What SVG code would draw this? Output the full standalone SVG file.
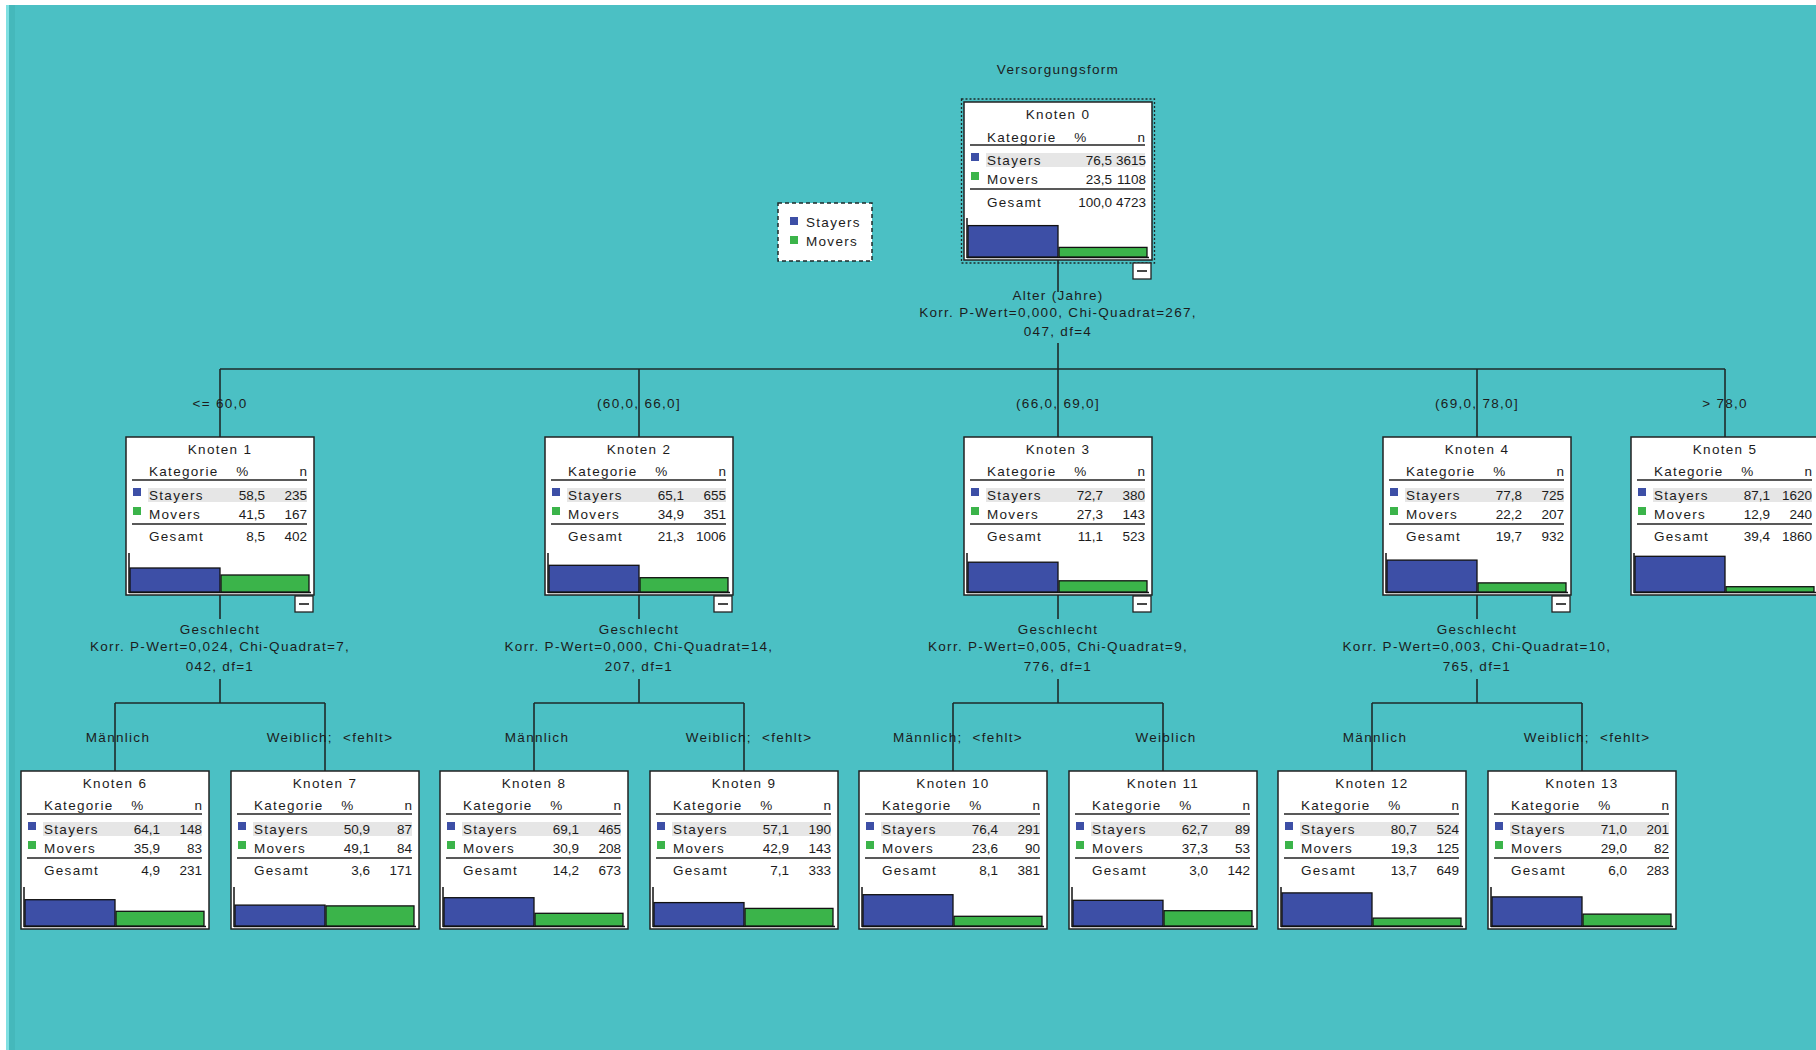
<svg xmlns="http://www.w3.org/2000/svg" xmlns:xlink="http://www.w3.org/1999/xlink" width="1816" height="1050" viewBox="0 0 1816 1050">
<style>
text{font-family:"Liberation Sans",Arial,sans-serif;font-size:13.5px;letter-spacing:1.3px;fill:#1c1c1c}
.m{text-anchor:middle}
.e{text-anchor:end;letter-spacing:0px;font-size:13.5px}
.p{white-space:pre}
.ln{stroke:#1e2a2a;stroke-width:1.6;fill:none}
.sb{fill:#3d4fa6;stroke:#111;stroke-width:1.3}
.sg{fill:#3bb44a;stroke:#111;stroke-width:1.3}
.mb{fill:#fff;stroke:#222;stroke-width:1.3}
</style>
<defs>
<g id="frame">
<rect x="0" y="0" width="188" height="158" fill="#fff" stroke="#222" stroke-width="1.5"/>
<rect x="22" y="51" width="159" height="14" fill="#e6e6e6"/>
<line x1="6" y1="43" x2="181" y2="43" stroke="#222" stroke-width="1.5"/>
<line x1="6" y1="87" x2="181" y2="87" stroke="#222" stroke-width="1.5"/>
<rect x="7" y="51" width="8" height="8" fill="#3d4fa6"/>
<rect x="7" y="70" width="8" height="8" fill="#3bb44a"/>
<line x1="3" y1="116" x2="3" y2="156" stroke="#111" stroke-width="1.5"/>
<line x1="3" y1="155.5" x2="185" y2="155.5" stroke="#111" stroke-width="1.5"/>
</g>
<g id="minus">
<rect x="169" y="159" width="18" height="16" class="mb"/>
<line x1="173" y1="167" x2="183" y2="167" stroke="#333" stroke-width="1.8"/>
</g>
</defs>
<rect x="0" y="0" width="1816" height="1050" fill="#ffffff"/>
<rect x="6" y="5" width="1810" height="1045" fill="#4bc0c4"/>
<rect x="6" y="5" width="3" height="1045" fill="#7fe0e2"/>
<rect x="9" y="5" width="6" height="1045" fill="#45b8bb"/>

<text class="m" x="1058" y="74">Versorgungsform</text>

<g id="legend">
<rect x="778" y="203" width="94" height="58" fill="#fff" stroke="#1e2a2a" stroke-width="1.5" stroke-dasharray="4,3"/>
<rect x="790" y="217" width="8" height="8" fill="#3d4fa6"/>
<rect x="790" y="236" width="8" height="8" fill="#3bb44a"/>
<text x="806" y="227">Stayers</text>
<text x="806" y="246">Movers</text>
</g>

<g id="connectors">
<line class="ln" x1="1058" y1="260" x2="1058" y2="292"/>
<line class="ln" x1="1058" y1="343" x2="1058" y2="369"/>
<line class="ln" x1="220" y1="369" x2="1725" y2="369"/>
<line class="ln" x1="220" y1="369" x2="220" y2="437"/>
<line class="ln" x1="639" y1="369" x2="639" y2="437"/>
<line class="ln" x1="1058" y1="369" x2="1058" y2="437"/>
<line class="ln" x1="1477" y1="369" x2="1477" y2="437"/>
<line class="ln" x1="1725" y1="369" x2="1725" y2="437"/>
<line class="ln" x1="220" y1="595" x2="220" y2="619"/>
<line class="ln" x1="220" y1="679" x2="220" y2="703"/>
<line class="ln" x1="115" y1="703" x2="325" y2="703"/>
<line class="ln" x1="115" y1="703" x2="115" y2="771"/>
<line class="ln" x1="325" y1="703" x2="325" y2="771"/>
<line class="ln" x1="639" y1="595" x2="639" y2="619"/>
<line class="ln" x1="639" y1="679" x2="639" y2="703"/>
<line class="ln" x1="534" y1="703" x2="744" y2="703"/>
<line class="ln" x1="534" y1="703" x2="534" y2="771"/>
<line class="ln" x1="744" y1="703" x2="744" y2="771"/>
<line class="ln" x1="1058" y1="595" x2="1058" y2="619"/>
<line class="ln" x1="1058" y1="679" x2="1058" y2="703"/>
<line class="ln" x1="953" y1="703" x2="1163" y2="703"/>
<line class="ln" x1="953" y1="703" x2="953" y2="771"/>
<line class="ln" x1="1163" y1="703" x2="1163" y2="771"/>
<line class="ln" x1="1477" y1="595" x2="1477" y2="619"/>
<line class="ln" x1="1477" y1="679" x2="1477" y2="703"/>
<line class="ln" x1="1372" y1="703" x2="1582" y2="703"/>
<line class="ln" x1="1372" y1="703" x2="1372" y2="771"/>
<line class="ln" x1="1582" y1="703" x2="1582" y2="771"/>
</g>

<g id="labels">
<text class="m" x="1058" y="300">Alter (Jahre)</text>
<text class="m" x="1058" y="317">Korr. P-Wert=0,000, Chi-Quadrat=267,</text>
<text class="m" x="1058" y="336">047, df=4</text>
<text class="m" x="220" y="408">&lt;= 60,0</text>
<text class="m" x="639" y="408">(60,0, 66,0]</text>
<text class="m" x="1058" y="408">(66,0, 69,0]</text>
<text class="m" x="1477" y="408">(69,0, 78,0]</text>
<text class="m" x="1725" y="408">&gt; 78,0</text>
<text class="m" x="220" y="634">Geschlecht</text>
<text class="m" x="220" y="651">Korr. P-Wert=0,024, Chi-Quadrat=7,</text>
<text class="m" x="220" y="671">042, df=1</text>
<text class="m" x="639" y="634">Geschlecht</text>
<text class="m" x="639" y="651">Korr. P-Wert=0,000, Chi-Quadrat=14,</text>
<text class="m" x="639" y="671">207, df=1</text>
<text class="m" x="1058" y="634">Geschlecht</text>
<text class="m" x="1058" y="651">Korr. P-Wert=0,005, Chi-Quadrat=9,</text>
<text class="m" x="1058" y="671">776, df=1</text>
<text class="m" x="1477" y="634">Geschlecht</text>
<text class="m" x="1477" y="651">Korr. P-Wert=0,003, Chi-Quadrat=10,</text>
<text class="m" x="1477" y="671">765, df=1</text>
<text class="m" x="118" y="742">Männlich</text>
<text class="m p" x="330" y="742" xml:space="preserve">Weiblich;  &lt;fehlt&gt;</text>
<text class="m" x="537" y="742">Männlich</text>
<text class="m p" x="749" y="742" xml:space="preserve">Weiblich;  &lt;fehlt&gt;</text>
<text class="m p" x="958" y="742" xml:space="preserve">Männlich;  &lt;fehlt&gt;</text>
<text class="m" x="1166" y="742">Weiblich</text>
<text class="m" x="1375" y="742">Männlich</text>
<text class="m p" x="1587" y="742" xml:space="preserve">Weiblich;  &lt;fehlt&gt;</text>
</g>

<g id="node0" transform="translate(964,102)">
<rect x="-2.5" y="-3" width="193" height="164" fill="none" stroke="#1e2a2a" stroke-width="1.3" stroke-dasharray="2,2"/>
<use xlink:href="#frame"/>
<text class="m" x="94" y="17">Knoten 0</text>
<text x="23" y="40">Kategorie</text><text class="m" x="117" y="40">%</text><text class="e" x="181" y="40">n</text>
<text x="23" y="63">Stayers</text><text class="e" x="148" y="63">76,5</text><text class="e" x="182" y="63">3615</text>
<text x="23" y="82">Movers</text><text class="e" x="148" y="82">23,5</text><text class="e" x="182" y="82">1108</text>
<text x="23" y="105">Gesamt</text><text class="e" x="148" y="105">100,0</text><text class="e" x="182" y="105">4723</text>
<rect class="sb" x="4" y="123.6" width="90" height="31.4"/>
<rect class="sg" x="95" y="145.4" width="88" height="9.6"/>
<use xlink:href="#minus" y="2"/>
</g>

<g id="node1" transform="translate(126,437)">
<use xlink:href="#frame"/>
<text class="m" x="94" y="17">Knoten 1</text>
<text x="23" y="39">Kategorie</text><text class="m" x="117" y="39">%</text><text class="e" x="181" y="39">n</text>
<text x="23" y="63">Stayers</text><text class="e" x="139" y="63">58,5</text><text class="e" x="181" y="63">235</text>
<text x="23" y="82">Movers</text><text class="e" x="139" y="82">41,5</text><text class="e" x="181" y="82">167</text>
<text x="23" y="104">Gesamt</text><text class="e" x="139" y="104">8,5</text><text class="e" x="181" y="104">402</text>
<rect class="sb" x="4" y="131" width="90" height="24"/>
<rect class="sg" x="95" y="138" width="88" height="17"/>
<use xlink:href="#minus"/>
</g>

<g id="node2" transform="translate(545,437)">
<use xlink:href="#frame"/>
<text class="m" x="94" y="17">Knoten 2</text>
<text x="23" y="39">Kategorie</text><text class="m" x="117" y="39">%</text><text class="e" x="181" y="39">n</text>
<text x="23" y="63">Stayers</text><text class="e" x="139" y="63">65,1</text><text class="e" x="181" y="63">655</text>
<text x="23" y="82">Movers</text><text class="e" x="139" y="82">34,9</text><text class="e" x="181" y="82">351</text>
<text x="23" y="104">Gesamt</text><text class="e" x="139" y="104">21,3</text><text class="e" x="181" y="104">1006</text>
<rect class="sb" x="4" y="128.3" width="90" height="26.7"/>
<rect class="sg" x="95" y="140.7" width="88" height="14.3"/>
<use xlink:href="#minus"/>
</g>

<g id="node3" transform="translate(964,437)">
<use xlink:href="#frame"/>
<text class="m" x="94" y="17">Knoten 3</text>
<text x="23" y="39">Kategorie</text><text class="m" x="117" y="39">%</text><text class="e" x="181" y="39">n</text>
<text x="23" y="63">Stayers</text><text class="e" x="139" y="63">72,7</text><text class="e" x="181" y="63">380</text>
<text x="23" y="82">Movers</text><text class="e" x="139" y="82">27,3</text><text class="e" x="181" y="82">143</text>
<text x="23" y="104">Gesamt</text><text class="e" x="139" y="104">11,1</text><text class="e" x="181" y="104">523</text>
<rect class="sb" x="4" y="125.2" width="90" height="29.8"/>
<rect class="sg" x="95" y="143.8" width="88" height="11.2"/>
<use xlink:href="#minus"/>
</g>

<g id="node4" transform="translate(1383,437)">
<use xlink:href="#frame"/>
<text class="m" x="94" y="17">Knoten 4</text>
<text x="23" y="39">Kategorie</text><text class="m" x="117" y="39">%</text><text class="e" x="181" y="39">n</text>
<text x="23" y="63">Stayers</text><text class="e" x="139" y="63">77,8</text><text class="e" x="181" y="63">725</text>
<text x="23" y="82">Movers</text><text class="e" x="139" y="82">22,2</text><text class="e" x="181" y="82">207</text>
<text x="23" y="104">Gesamt</text><text class="e" x="139" y="104">19,7</text><text class="e" x="181" y="104">932</text>
<rect class="sb" x="4" y="123.1" width="90" height="31.9"/>
<rect class="sg" x="95" y="145.9" width="88" height="9.1"/>
<use xlink:href="#minus"/>
</g>

<g id="node5" transform="translate(1631,437)">
<use xlink:href="#frame"/>
<text class="m" x="94" y="17">Knoten 5</text>
<text x="23" y="39">Kategorie</text><text class="m" x="117" y="39">%</text><text class="e" x="181" y="39">n</text>
<text x="23" y="63">Stayers</text><text class="e" x="139" y="63">87,1</text><text class="e" x="181" y="63">1620</text>
<text x="23" y="82">Movers</text><text class="e" x="139" y="82">12,9</text><text class="e" x="181" y="82">240</text>
<text x="23" y="104">Gesamt</text><text class="e" x="139" y="104">39,4</text><text class="e" x="181" y="104">1860</text>
<rect class="sb" x="4" y="119.3" width="90" height="35.7"/>
<rect class="sg" x="95" y="149.7" width="88" height="5.3"/>
</g>

<g id="node6" transform="translate(21,771)">
<use xlink:href="#frame"/>
<text class="m" x="94" y="17">Knoten 6</text>
<text x="23" y="39">Kategorie</text><text class="m" x="117" y="39">%</text><text class="e" x="181" y="39">n</text>
<text x="23" y="63">Stayers</text><text class="e" x="139" y="63">64,1</text><text class="e" x="181" y="63">148</text>
<text x="23" y="82">Movers</text><text class="e" x="139" y="82">35,9</text><text class="e" x="181" y="82">83</text>
<text x="23" y="104">Gesamt</text><text class="e" x="139" y="104">4,9</text><text class="e" x="181" y="104">231</text>
<rect class="sb" x="4" y="128.7" width="90" height="26.3"/>
<rect class="sg" x="95" y="140.3" width="88" height="14.7"/>
</g>

<g id="node7" transform="translate(231,771)">
<use xlink:href="#frame"/>
<text class="m" x="94" y="17">Knoten 7</text>
<text x="23" y="39">Kategorie</text><text class="m" x="117" y="39">%</text><text class="e" x="181" y="39">n</text>
<text x="23" y="63">Stayers</text><text class="e" x="139" y="63">50,9</text><text class="e" x="181" y="63">87</text>
<text x="23" y="82">Movers</text><text class="e" x="139" y="82">49,1</text><text class="e" x="181" y="82">84</text>
<text x="23" y="104">Gesamt</text><text class="e" x="139" y="104">3,6</text><text class="e" x="181" y="104">171</text>
<rect class="sb" x="4" y="134.1" width="90" height="20.9"/>
<rect class="sg" x="95" y="134.9" width="88" height="20.1"/>
</g>

<g id="node8" transform="translate(440,771)">
<use xlink:href="#frame"/>
<text class="m" x="94" y="17">Knoten 8</text>
<text x="23" y="39">Kategorie</text><text class="m" x="117" y="39">%</text><text class="e" x="181" y="39">n</text>
<text x="23" y="63">Stayers</text><text class="e" x="139" y="63">69,1</text><text class="e" x="181" y="63">465</text>
<text x="23" y="82">Movers</text><text class="e" x="139" y="82">30,9</text><text class="e" x="181" y="82">208</text>
<text x="23" y="104">Gesamt</text><text class="e" x="139" y="104">14,2</text><text class="e" x="181" y="104">673</text>
<rect class="sb" x="4" y="126.7" width="90" height="28.3"/>
<rect class="sg" x="95" y="142.3" width="88" height="12.7"/>
</g>

<g id="node9" transform="translate(650,771)">
<use xlink:href="#frame"/>
<text class="m" x="94" y="17">Knoten 9</text>
<text x="23" y="39">Kategorie</text><text class="m" x="117" y="39">%</text><text class="e" x="181" y="39">n</text>
<text x="23" y="63">Stayers</text><text class="e" x="139" y="63">57,1</text><text class="e" x="181" y="63">190</text>
<text x="23" y="82">Movers</text><text class="e" x="139" y="82">42,9</text><text class="e" x="181" y="82">143</text>
<text x="23" y="104">Gesamt</text><text class="e" x="139" y="104">7,1</text><text class="e" x="181" y="104">333</text>
<rect class="sb" x="4" y="131.6" width="90" height="23.4"/>
<rect class="sg" x="95" y="137.4" width="88" height="17.6"/>
</g>

<g id="node10" transform="translate(859,771)">
<use xlink:href="#frame"/>
<text class="m" x="94" y="17">Knoten 10</text>
<text x="23" y="39">Kategorie</text><text class="m" x="117" y="39">%</text><text class="e" x="181" y="39">n</text>
<text x="23" y="63">Stayers</text><text class="e" x="139" y="63">76,4</text><text class="e" x="181" y="63">291</text>
<text x="23" y="82">Movers</text><text class="e" x="139" y="82">23,6</text><text class="e" x="181" y="82">90</text>
<text x="23" y="104">Gesamt</text><text class="e" x="139" y="104">8,1</text><text class="e" x="181" y="104">381</text>
<rect class="sb" x="4" y="123.7" width="90" height="31.3"/>
<rect class="sg" x="95" y="145.3" width="88" height="9.7"/>
</g>

<g id="node11" transform="translate(1069,771)">
<use xlink:href="#frame"/>
<text class="m" x="94" y="17">Knoten 11</text>
<text x="23" y="39">Kategorie</text><text class="m" x="117" y="39">%</text><text class="e" x="181" y="39">n</text>
<text x="23" y="63">Stayers</text><text class="e" x="139" y="63">62,7</text><text class="e" x="181" y="63">89</text>
<text x="23" y="82">Movers</text><text class="e" x="139" y="82">37,3</text><text class="e" x="181" y="82">53</text>
<text x="23" y="104">Gesamt</text><text class="e" x="139" y="104">3,0</text><text class="e" x="181" y="104">142</text>
<rect class="sb" x="4" y="129.3" width="90" height="25.7"/>
<rect class="sg" x="95" y="139.7" width="88" height="15.3"/>
</g>

<g id="node12" transform="translate(1278,771)">
<use xlink:href="#frame"/>
<text class="m" x="94" y="17">Knoten 12</text>
<text x="23" y="39">Kategorie</text><text class="m" x="117" y="39">%</text><text class="e" x="181" y="39">n</text>
<text x="23" y="63">Stayers</text><text class="e" x="139" y="63">80,7</text><text class="e" x="181" y="63">524</text>
<text x="23" y="82">Movers</text><text class="e" x="139" y="82">19,3</text><text class="e" x="181" y="82">125</text>
<text x="23" y="104">Gesamt</text><text class="e" x="139" y="104">13,7</text><text class="e" x="181" y="104">649</text>
<rect class="sb" x="4" y="121.9" width="90" height="33.1"/>
<rect class="sg" x="95" y="147.1" width="88" height="7.9"/>
</g>

<g id="node13" transform="translate(1488,771)">
<use xlink:href="#frame"/>
<text class="m" x="94" y="17">Knoten 13</text>
<text x="23" y="39">Kategorie</text><text class="m" x="117" y="39">%</text><text class="e" x="181" y="39">n</text>
<text x="23" y="63">Stayers</text><text class="e" x="139" y="63">71,0</text><text class="e" x="181" y="63">201</text>
<text x="23" y="82">Movers</text><text class="e" x="139" y="82">29,0</text><text class="e" x="181" y="82">82</text>
<text x="23" y="104">Gesamt</text><text class="e" x="139" y="104">6,0</text><text class="e" x="181" y="104">283</text>
<rect class="sb" x="4" y="125.9" width="90" height="29.1"/>
<rect class="sg" x="95" y="143.1" width="88" height="11.9"/>
</g>
</svg>
